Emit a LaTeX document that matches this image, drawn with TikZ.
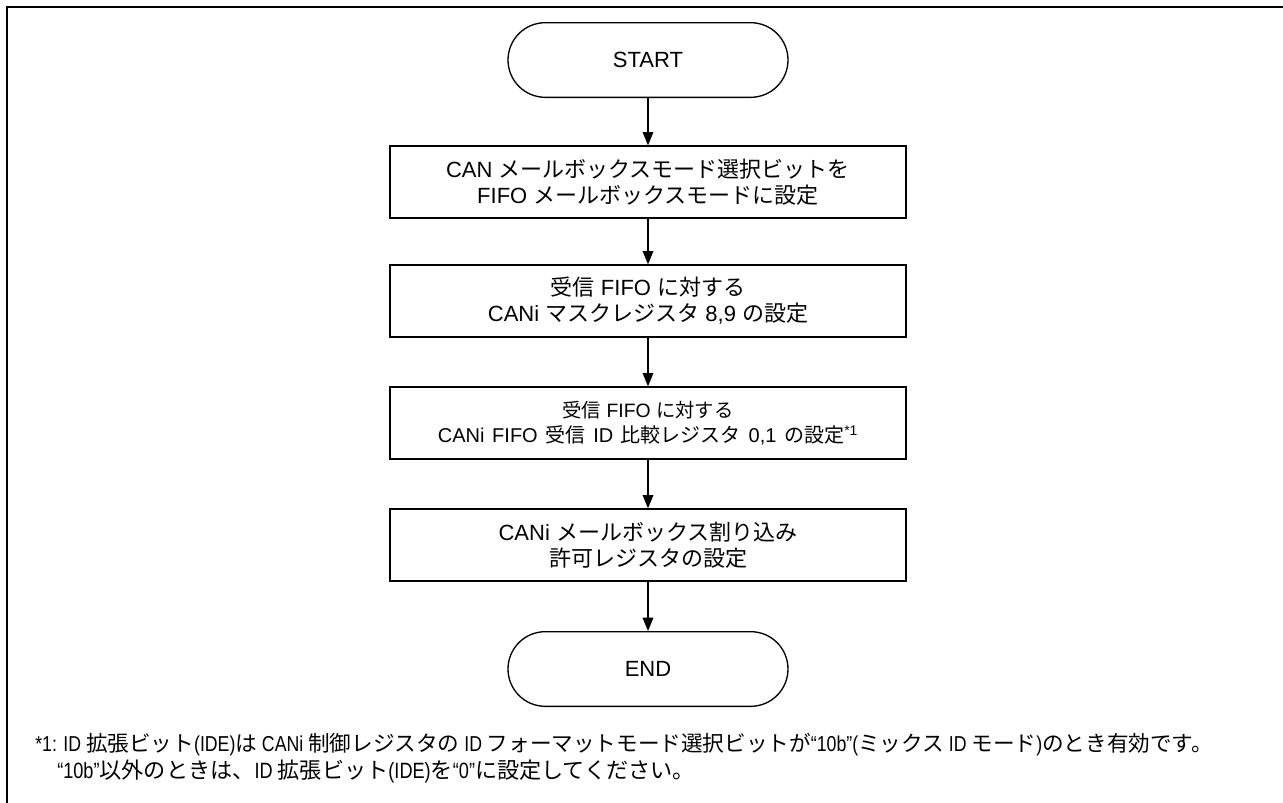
\documentclass[tikz,border=0pt]{standalone}
\usepackage{fontspec}
\setmainfont{Liberation Sans}
\newfontfamily\jp{Noto Sans CJK JP}
\newfontfamily\narrow{Liberation Sans}[FakeStretch=0.82]
\usetikzlibrary{arrows.meta,shapes.misc}

\tikzset{
  terminal/.style={rounded rectangle, draw, line width=1pt, minimum width=210pt,
    minimum height=56pt, inner sep=0pt, font=\fontsize{16.5}{19.5}\selectfont},
  process/.style={rectangle, draw, line width=1pt, minimum width=387pt,
    minimum height=54pt, inner sep=0pt, align=center, font=\fontsize{16.5}{19.5}\selectfont},
  flow/.style={line width=1pt, -{Triangle[length=10pt,width=8pt]}},
  note/.style={anchor=west, inner sep=0pt, font=\narrow\fontsize{16.2}{20}\selectfont},
}

\begin{document}
\begin{tikzpicture}[x=0.75pt,y=-0.75pt]
  \useasboundingbox (0,0) rectangle (1283,803);
  \clip (0,0) rectangle (1283,803);
  % frame
  \draw [line width=1.5pt] (7,7) rectangle (1300,820);

  \node [terminal] (start) at (648,60) {START};
  \node [process] (mode) at (648,182)
    {CAN {\jp メールボックスモード選択ビットを}\\FIFO {\jp メールボックスモードに設定}};
  \node [process] (mask) at (648,301)
    {{\jp 受信} FIFO {\jp に対する}\\CANi {\jp マスクレジスタ} 8,9 {\jp の設定}};
  \node [process, font=\fontsize{14.5}{18.5}\selectfont] (cmp) at (648,423)
    {{\jp 受信} FIFO {\jp に対する}\\{\fontsize{15}{18.5}\selectfont\spaceskip=5.8pt CANi FIFO {\jp 受信} ID {\jp 比較レジスタ} 0,1 {\jp の設定}\textsuperscript{*1}}};
  \node [process] (intr) at (648,545)
    {CANi {\jp メールボックス割り込み}\\{\jp 許可レジスタの設定}};
  \node [terminal] (stop) at (648,669) {END};

  \draw [flow] (start) -- (mode);
  \draw [flow] (mode) -- (mask);
  \draw [flow] (mask) -- (cmp);
  \draw [flow] (cmp) -- (intr);
  \draw [flow] (intr) -- (stop);

  % footnote
  \node [note] (fn1) at (35,745)
    {*1: ID {\jp 拡張ビット}(IDE){\jp は} CANi {\jp 制御レジスタの} ID {\jp フォーマットモード選択ビットが}“10b”({\jp ミックス} ID {\jp モード}){\jp のとき有効です。}};
  \node [note, font=\narrow\fontsize{16.6}{20}\selectfont] (fn2) at (57,771)
    {“10b”{\jp 以外のときは、}ID {\jp 拡張ビット}(IDE){\jp を}“0”{\jp に設定してください。}};
\end{tikzpicture}
\end{document}
